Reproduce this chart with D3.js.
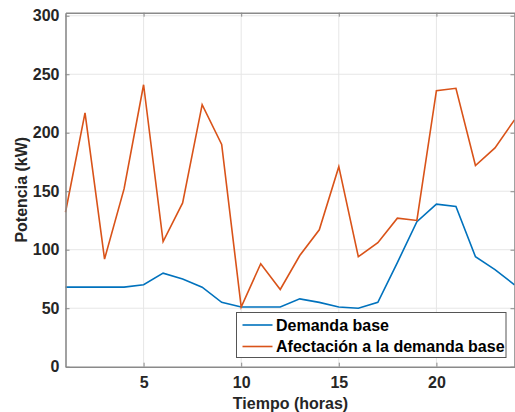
<!DOCTYPE html>
<html>
<head>
<meta charset="utf-8">
<script src="https://cdn.jsdelivr.net/npm/d3@7"></script>
<style>
  body { margin: 0; background: #fff; }
  svg { display: block; font-family: "Liberation Sans", Arial, sans-serif; }
</style>
</head>
<body>
<div id="chart"></div>
<script>
// hours of the day
const hours = d3.range(1, 25);

// Demanda base (kW)
const demandaBase = [68, 68, 68, 68, 70, 80, 75, 68, 55, 51, 51, 51,
                     58, 55, 51, 50, 55, 89, 124, 139, 137, 94, 83, 70];

// Afectación a la demanda base (kW)
const afectacion = [132, 217, 92, 152, 241, 107, 140, 224, 190, 51, 88, 66,
                    95, 117, 171, 94, 106, 127, 125, 236, 238, 172, 187, 211];

const xTicks = [5, 10, 15, 20];
const yTicks = [0, 50, 100, 150, 200, 250, 300];
const seriesNames = ["Demanda base", "Afectación a la demanda base"];

const width = 515, height = 412;
const margin = {top: 12.7, right: 0.5, bottom: 45.3, left: 65.5};

const svg = d3.select("#chart")
  .append("svg")
  .attr("width", width)
  .attr("height", height);

const x = d3.scaleLinear()
  .domain([1, 24])
  .range([margin.left, width - margin.right]);

const y = d3.scaleLinear()
  .domain([0, 302.6])
  .range([height - margin.bottom, margin.top]);

const axisColor = "#8a8a8a";
const textColor = "#262626";

// grid
svg.append("g")
  .selectAll("line.v")
  .data(xTicks)
  .join("line")
  .attr("x1", d => x(d)).attr("x2", d => x(d))
  .attr("y1", y.range()[0]).attr("y2", y.range()[1])
  .attr("stroke", "#e6e6e6").attr("stroke-width", 1);

svg.append("g")
  .selectAll("line.h")
  .data(yTicks.filter(d => d > 0))
  .join("line")
  .attr("x1", x.range()[0]).attr("x2", x.range()[1])
  .attr("y1", d => y(d)).attr("y2", d => y(d))
  .attr("stroke", "#e6e6e6").attr("stroke-width", 1);

// lines
const line = (vals) => d3.line()
  .x((d, i) => x(hours[i]))
  .y(d => y(d))(vals);

svg.append("path")
  .attr("d", line(demandaBase))
  .attr("fill", "none")
  .attr("stroke", "#0072BD")
  .attr("stroke-width", 1.6);

svg.append("path")
  .attr("d", line(afectacion))
  .attr("fill", "none")
  .attr("stroke", "#D95319")
  .attr("stroke-width", 1.6);

// axes (MATLAB style box with inward ticks)
const xAxis = g => g
  .attr("transform", `translate(0,${y(0)})`)
  .call(d3.axisBottom(x).tickValues(xTicks).tickSizeInner(-4).tickSizeOuter(0).tickPadding(10));
const yAxis = g => g
  .attr("transform", `translate(${x(1)},0)`)
  .call(d3.axisLeft(y).tickValues(yTicks).tickSizeInner(-4).tickSizeOuter(0).tickPadding(6));
const xTop = g => g
  .attr("transform", `translate(0,${y.range()[1]})`)
  .call(d3.axisTop(x).tickValues(xTicks).tickSizeInner(-4).tickSizeOuter(0).tickFormat(""));
const yRight = g => g
  .attr("transform", `translate(${x.range()[1]},0)`)
  .call(d3.axisRight(y).tickValues(yTicks).tickSizeInner(-4).tickSizeOuter(0).tickFormat(""));

[xAxis, yAxis, xTop, yRight].forEach(a => {
  const g = svg.append("g").call(a);
  g.selectAll("path.domain").attr("stroke", axisColor).attr("stroke-width", 1.6);
  g.selectAll(".tick line").attr("stroke", axisColor).attr("stroke-width", 1);
  g.selectAll(".tick text")
    .attr("fill", textColor)
    .style("font-size", "16px")
    .style("font-weight", "bold");
});

// axis titles
svg.append("text")
  .attr("x", (x.range()[0] + 515.5) / 2)
  .attr("y", 409)
  .attr("text-anchor", "middle")
  .attr("fill", textColor)
  .style("font-size", "16px")
  .style("font-weight", "bold")
  .text("Tiempo (horas)");

svg.append("text")
  .attr("transform", `translate(27,${(y(0) + y(302.6)) / 2}) rotate(-90)`)
  .attr("text-anchor", "middle")
  .attr("fill", textColor)
  .style("font-size", "16px")
  .style("font-weight", "bold")
  .text("Potencia (kW)");

// legend
const legend = svg.append("g").attr("transform", "translate(236.5,312.5)");
legend.append("rect")
  .attr("width", 269.5)
  .attr("height", 45)
  .attr("fill", "#fff")
  .attr("stroke", "#555")
  .attr("stroke-width", 1);

const colors = ["#0072BD", "#D95319"];
const item = legend.selectAll("g.item")
  .data(seriesNames)
  .join("g")
  .attr("class", "item")
  .attr("transform", (d, i) => `translate(0,${12.5 + i * 21.5})`);

item.append("line")
  .attr("x1", 6).attr("x2", 36)
  .attr("stroke", (d, i) => colors[i])
  .attr("stroke-width", 1.6);

item.append("text")
  .attr("x", 39.5)
  .attr("dy", "0.35em")
  .attr("fill", "#000")
  .style("font-size", "16px")
  .style("font-weight", "bold")
  .text(d => d);
</script>
</body>
</html>
